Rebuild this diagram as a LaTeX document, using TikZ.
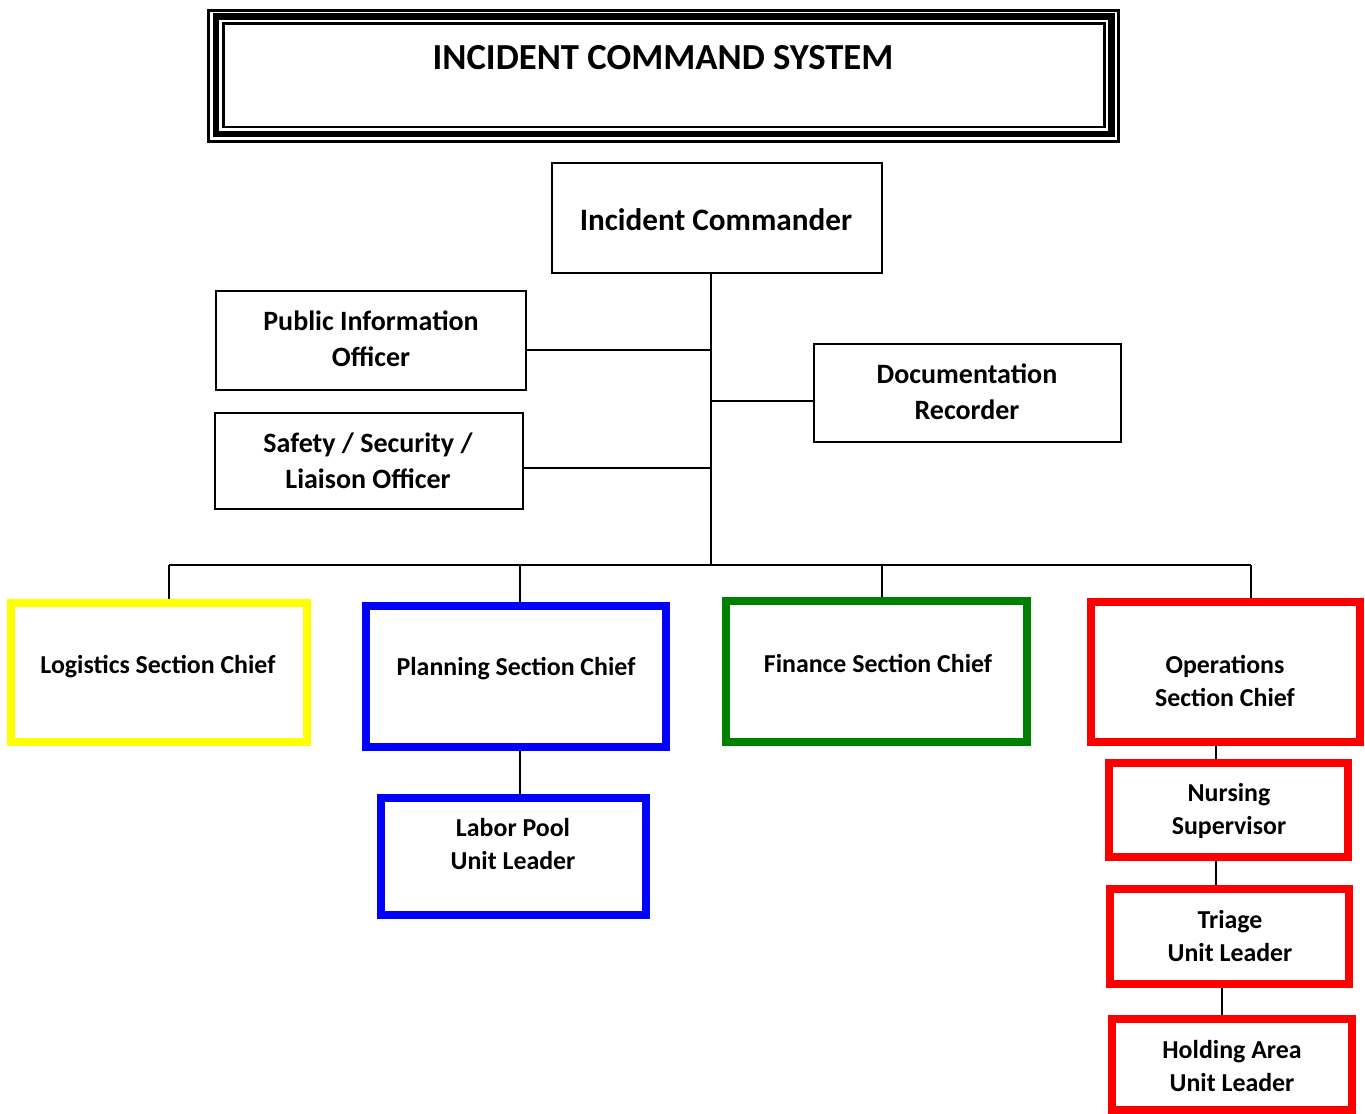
\documentclass[tikz,border=0pt]{standalone}
\usepackage{fontspec}
\setmainfont{Carlito}
\usetikzlibrary{fit}
\definecolor{logc}{HTML}{FFFF00}
\definecolor{planc}{HTML}{0000FF}
\definecolor{finc}{HTML}{008000}
\definecolor{opsc}{HTML}{FF0000}
\begin{document}
\begin{tikzpicture}[x=0.75pt,y=-0.75pt,
  plainbox/.style={draw=black, line width=1.5pt, fill=white, inner sep=0pt},
  unitbox/.style={draw=#1, line width=6pt, fill=white, inner sep=0pt},
  link/.style={draw=black, line width=1.5pt},
  bigtxt/.style={font=\bfseries\fontsize{23.4}{27}\selectfont, align=center, inner sep=0pt},
  midtxt/.style={font=\bfseries\fontsize{21}{27}\selectfont, align=center, inner sep=0pt},
  smalltxt/.style={font=\bfseries\fontsize{19.4}{24.75}\selectfont, align=center, inner sep=0pt}]
\useasboundingbox (0,0) rectangle (1365,1114);

% title frame: thin, thick and thin borders
\draw[line width=1.9pt] (208.5,10.5) rectangle (1118.5,141.5);
\draw[line width=4.6pt] (216,16.5) rectangle (1111.5,134);
\draw[line width=1.9pt] (223.5,23.5) rectangle (1104.5,127);
\node[font=\bfseries\fontsize{27.5}{32}\selectfont, inner sep=0pt] (title) at (663,58) {INCIDENT COMMAND SYSTEM};

% junction points
\coordinate (trunk) at (711,565);
\coordinate (pioJ) at (711,350);
\coordinate (safJ) at (711,468);
\coordinate (docJ) at (711,401);
\coordinate (logX) at (169,565);
\coordinate (planX) at (520,565);
\coordinate (finX) at (882,565);
\coordinate (opsX) at (1251,565);
\coordinate (nurX) at (1216,760);
\coordinate (triX) at (1222,1000);

% command staff boxes
\node[plainbox, fit={(552,163) (882,273)}] (ic) {};
\node[plainbox, fit={(216,291) (526,390)}] (pio) {};
\node[plainbox, fit={(215,413) (523,509)}] (saf) {};
\node[plainbox, fit={(814,344) (1121,442)}] (doc) {};

% connectors
\draw[link] (ic.south -| trunk) -- ([yshift=-0.75pt]trunk);
\draw[link] (pioJ) -- (pioJ -| pio.east);
\draw[link] (safJ) -- (safJ -| saf.east);
\draw[link] (docJ) -- (docJ -| doc.west);
\draw[link] (logX) -- (opsX);
\draw[link] (logX) -- ++(0,40);
\draw[link] (planX) -- ++(0,40);
\draw[link] (finX) -- ++(0,40);
\draw[link] (opsX) -- ++(0,40);
\draw[link] (planX |- 0,745) -- (planX |- 0,800);
\draw[link] (nurX |- 0,740) -- (nurX |- 0,765);
\draw[link] (nurX |- 0,855) -- (nurX |- 0,890);
\draw[link] (triX |- 0,982) -- (triX |- 0,1020);

% section boxes
\node[unitbox=logc, fit={(11,603) (307,742)}] (log) {};
\node[unitbox=planc, fit={(366,606) (666,747)}] (plan) {};
\node[unitbox=finc, fit={(726,601) (1027,742)}] (fin) {};
\node[unitbox=opsc, fit={(1091,602) (1360,742)}] (ops) {};
\node[unitbox=planc, fit={(381,798) (646,915)}] (lab) {};
\node[unitbox=opsc, fit={(1109,763) (1348,857)}] (nur) {};
\node[unitbox=opsc, fit={(1110,889) (1349,984)}] (tri) {};
\node[unitbox=opsc, fit={(1112,1019) (1352,1110)}] (hold) {};

% labels
\node[bigtxt] (ict) at (716,220) {Incident Commander};
\node[midtxt] (piot) at (371,339) {Public Information\\Officer};
\node[midtxt] (saft) at (368,460.5) {Safety / Security /\\Liaison Officer};
\node[midtxt] (doct) at (967,392) {Documentation\\Recorder};
\node[smalltxt] (logt) at (158,667) {Logistics Section Chief};
\node[smalltxt] (plant) at (516,669) {Planning Section Chief};
\node[smalltxt] (fint) at (878,663) {Finance Section Chief};
\node[smalltxt] (opst) at (1225,681) {Operations\\Section Chief};
\node[smalltxt] (labt) at (513,844.5) {Labor Pool\\Unit Leader};
\node[smalltxt] (nurt) at (1229,810.5) {Nursing\\Supervisor};
\node[smalltxt] (trit) at (1230,936.5) {Triage\\Unit Leader};
\node[smalltxt] (holdt) at (1232,1066.5) {Holding Area\\Unit Leader};
\end{tikzpicture}
\end{document}
